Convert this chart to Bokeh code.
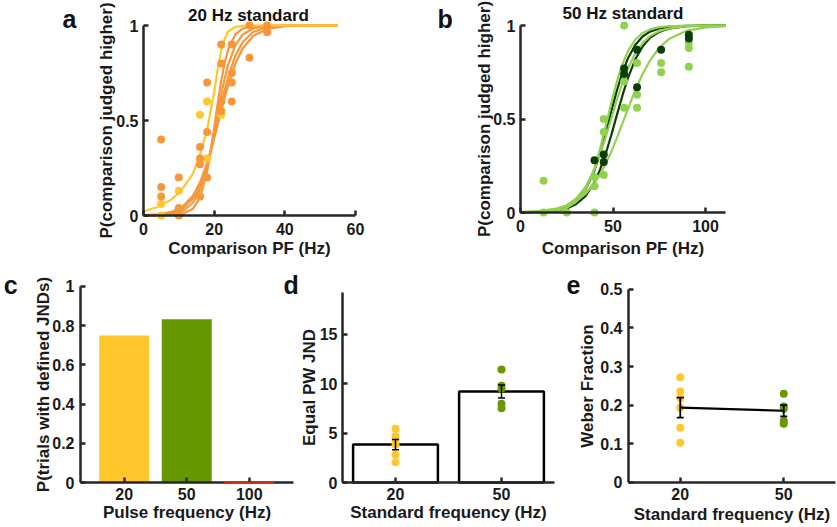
from bokeh.plotting import figure
from bokeh.models import ColumnDataSource, FixedTicker, Label, Whisker, TeeHead, Range1d
from bokeh.layouts import column, row
from bokeh.embed import file_html
from bokeh.resources import INLINE

# ---------------- data ----------------
# panel a : 20 Hz standard (fitted psychometric curves)
a_fit_x = [0, 4, 8, 11, 14, 16, 18, 19, 20, 21, 22, 23, 24, 26, 28, 31, 35, 40, 48, 55]
a_fit_yellow = [0.022, 0.045, 0.085, 0.14, 0.22, 0.32, 0.45, 0.55, 0.65, 0.77, 0.87, 0.93, 0.97, 0.992, 0.998, 1.0, 1.0, 1.0, 1.0, 1.0]
a_fit_orange1 = [0.0, 0.0, 0.0015, 0.0075, 0.035, 0.094, 0.23, 0.336, 0.46, 0.59, 0.71, 0.805, 0.875, 0.953, 0.983, 0.996, 1.0, 1.0, 1.0, 1.0]
a_fit_orange2 = [0.0003, 0.0013, 0.0064, 0.021, 0.067, 0.137, 0.261, 0.345, 0.44, 0.54, 0.636, 0.723, 0.796, 0.897, 0.951, 0.985, 0.997, 1.0, 1.0, 1.0]
a_fit_orange3 = [0.0009, 0.0034, 0.013, 0.034, 0.089, 0.159, 0.269, 0.339, 0.417, 0.5, 0.583, 0.661, 0.731, 0.841, 0.911, 0.966, 0.991, 0.998, 1.0, 1.0]
a_fit_orange4 = [0.0019, 0.0061, 0.0196, 0.046, 0.104, 0.174, 0.275, 0.337, 0.406, 0.478, 0.551, 0.622, 0.689, 0.799, 0.878, 0.945, 0.982, 0.996, 1.0, 1.0]
a_orange_x = [5, 5, 5, 10, 10, 10, 16, 16, 16, 16, 18, 18, 18, 22, 22, 22, 22, 25, 25, 25, 25, 30, 30, 35, 35]
a_orange_y = [0.4, 0.15, 0.1, 0.2, 0.04, 0.0, 0.36, 0.3, 0.27, 0.1, 0.7, 0.44, 0.2, 0.9, 0.8, 0.6, 0.55, 0.9, 0.75, 0.7, 0.6, 0.83, 1.0, 1.0, 0.965]
a_yellow_x = [5, 5, 10, 16, 18, 18, 22]
a_yellow_y = [0.06, 0.0, 0.13, 0.53, 0.6, 0.3, 0.53]

# panel b : 50 Hz standard
b_fit_x = [0, 10, 20, 25, 30, 35, 40, 43, 46, 49, 52, 55, 58, 62, 66, 70, 75, 80, 90, 100, 110.8]
b_fit_dark1 = [0.0006, 0.0029, 0.0133, 0.028, 0.059, 0.119, 0.226, 0.317, 0.423, 0.538, 0.649, 0.746, 0.823, 0.896, 0.941, 0.967, 0.984, 0.993, 0.998, 1.0, 1.0]
b_fit_dark2 = [0.0006, 0.0027, 0.011, 0.022, 0.044, 0.086, 0.162, 0.229, 0.313, 0.411, 0.518, 0.622, 0.717, 0.818, 0.888, 0.934, 0.966, 0.983, 0.996, 0.999, 1.0]
b_fit_light1 = [0.0004, 0.0021, 0.011, 0.025, 0.056, 0.119, 0.237, 0.339, 0.458, 0.583, 0.697, 0.791, 0.862, 0.924, 0.96, 0.979, 0.991, 0.996, 0.999, 1.0, 1.0]
b_fit_light2 = [0.0015, 0.0055, 0.02, 0.039, 0.074, 0.134, 0.231, 0.31, 0.401, 0.5, 0.599, 0.69, 0.769, 0.85, 0.906, 0.943, 0.97, 0.984, 0.996, 0.999, 1.0]
b_fit_light3 = [0.0028, 0.0078, 0.022, 0.037, 0.061, 0.099, 0.157, 0.203, 0.259, 0.323, 0.396, 0.474, 0.552, 0.653, 0.741, 0.813, 0.881, 0.926, 0.973, 0.99, 0.997]
b_light_x = [12.5, 12.5, 25, 40, 40, 40, 45, 45, 45, 56, 56, 56, 63, 63, 63, 76, 76, 91, 91, 91]
b_light_y = [0.17, 0.0, 0.0, 0.0, 0.14, 0.19, 0.5, 0.43, 0.2, 1.0, 0.7, 0.56, 0.8, 0.63, 0.56, 0.8, 0.75, 0.91, 0.88, 0.78]
b_dark_x = [40, 45, 45, 56, 56, 63, 63, 76, 91, 91]
b_dark_y = [0.28, 0.27, 0.31, 0.77, 0.74, 0.87, 0.67, 0.87, 0.95, 0.93]

# panel c
c_categories = ["20", "50", "100"]
c_values = [0.75, 0.833, 0.0]

# panel d
d_categories = ["20", "50"]
d_mean = [3.85, 9.22]
d_sem = [0.52, 0.65]
d_pts_20 = [5.44, 4.7, 4.36, 3.86, 2.82, 2.04]
d_pts_50 = [11.45, 9.8, 9.5, 7.97, 7.53]

# panel e
e_categories = ["20", "50"]
e_mean = [0.193, 0.185]
e_sem = [0.026, 0.0145]
e_pts_20 = [0.272, 0.235, 0.218, 0.193, 0.141, 0.102]
e_pts_50 = [0.229, 0.196, 0.19, 0.159, 0.151]

# ---------------- style ----------------
FONT = "Liberation Sans"
AX = "#262626"
YEL = "#FFC72C"
ORG = "#F8963A"
GRN = "#669900"
LGRN = "#92D050"
DGRN = "#0B3D0B"
RED = "#C83214"


def make_fig(w, h, xr, yr):
    p = figure(width=w, height=h, x_range=Range1d(*xr), y_range=Range1d(*yr),
               output_backend="svg", toolbar_location=None, title=None,
               min_border_left=0, min_border_right=0,
               min_border_top=0, min_border_bottom=0)
    p.outline_line_color = None
    p.xgrid.visible = False
    p.ygrid.visible = False
    p.background_fill_color = "white"
    p.border_fill_color = "white"
    return p


def style_axes(p, xfix, yfix, xb, yb, xt, xl, yt, yl, xlab, ylab,
               xls, xals, yls, yals):
    for ax in (p.xaxis[0], p.yaxis[0]):
        ax.axis_line_width = 2.5
        ax.axis_line_color = AX
        ax.major_tick_in = 5
        ax.major_tick_out = 0
        ax.major_tick_line_width = 2.5
        ax.major_tick_line_color = AX
        ax.minor_tick_line_color = None
        ax.major_label_text_font = FONT
        ax.major_label_text_font_size = "16px"
        ax.major_label_text_font_style = "bold"
        ax.major_label_text_color = "#1a1a1a"
        ax.axis_label_text_font = FONT
        ax.axis_label_text_font_size = "17px"
        ax.axis_label_text_font_style = "bold"
        ax.axis_label_text_color = "#1a1a1a"
    xa, ya = p.xaxis[0], p.yaxis[0]
    xa.fixed_location = xfix
    ya.fixed_location = yfix
    xa.bounds = xb
    ya.bounds = yb
    xa.ticker = FixedTicker(ticks=xt)
    ya.ticker = FixedTicker(ticks=yt)
    xa.major_label_overrides = dict(zip(xt, xl))
    ya.major_label_overrides = dict(zip(yt, yl))
    xa.axis_label = xlab
    ya.axis_label = ylab
    xa.major_label_standoff = xls
    xa.axis_label_standoff = xals
    ya.major_label_standoff = yls
    ya.axis_label_standoff = yals


def add_text(p, x, y, text, size, align="left"):
    p.add_layout(Label(x=x, y=y, text=text, text_font=FONT, text_font_size=size,
                       text_font_style="bold", text_color="#111111",
                       text_align=align, text_baseline="alphabetic"))


# ---------------- panel a ----------------
pa = make_fig(420, 270, (-40.47, 78.40), (-0.28947, 1.13158))
for ys in (a_fit_orange4, a_fit_orange3, a_fit_orange2, a_fit_orange1):
    pa.line(a_fit_x, ys, line_color=ORG, line_width=2.2)
pa.line(a_fit_x, a_fit_yellow, line_color=YEL, line_width=2.2)
pa.scatter(a_yellow_x, a_yellow_y, size=8, fill_color=YEL, line_color=None)
pa.scatter(a_orange_x, a_orange_y, size=8, fill_color=ORG, line_color=None)
style_axes(pa, 0, 0, (0, 60), (0, 1), [0, 20, 40, 60], ["0", "20", "40", "60"],
           [0, 0.5, 1], ["0", "0.5", "1"], "Comparison PF (Hz)",
           "P(comparison judged higher)", 7, 1, 5, -3)
add_text(pa, 29.72, 1.054, "20 Hz standard", "17px", "center")
add_text(pa, -22.9, 1.033, "a", "25px")

# ---------------- panel b ----------------
pb = make_fig(417, 270, (-54.054, 171.35), (-0.31016, 1.13369))
for ys in (b_fit_dark2, b_fit_dark1):
    pb.line(b_fit_x, ys, line_color=DGRN, line_width=2.2)
for ys in (b_fit_light3, b_fit_light2, b_fit_light1):
    pb.line(b_fit_x, ys, line_color=LGRN, line_width=2.2)
pb.scatter(b_light_x, b_light_y, size=8, fill_color=LGRN, line_color=None)
pb.scatter(b_dark_x, b_dark_y, size=8, fill_color=DGRN, line_color=None)
style_axes(pb, 0, 0, (0, 110.81), (0, 1), [0, 50, 100], ["0", "50", "100"],
           [0, 0.5, 1], ["0", "0.5", "1"], "Comparison PF (Hz)",
           "P(comparison judged higher)", 7, 4, 5, -4)
add_text(pb, 55.41, 1.062, "50 Hz standard", "17px", "center")
add_text(pb, -44.86, 1.034, "b", "25px")

# ---------------- panel c ----------------
pc = make_fig(299, 257, (-0.98, 3.804), (-0.22959, 1.08163))
c_x = list(range(1, len(c_categories) + 1))
pc.vbar(x=c_x[:2], top=c_values[:2], width=0.8, fill_color=[YEL, GRN], line_color=None)
pc.vbar(x=c_x[2:], top=c_values[2:], width=0.8, fill_color=None, line_color=RED,
        line_width=2, level="overlay")
style_axes(pc, 0, 0.3, (0.3, 3.7), (0, 1), c_x, c_categories,
           [0, 0.2, 0.4, 0.6, 0.8, 1], ["0", "0.2", "0.4", "0.6", "0.8", "1"],
           "Pulse frequency (Hz)", "P(trials with defined JNDs)", 5, 0, 6, -4)
add_text(pc, -0.927, 1.009, "c", "25px")
add_text(pc, 3.548, 1.01, "d", "25px")

# ---------------- panel d ----------------
pd_ = make_fig(261, 257, (0.09434, 2.5566), (-4.5607, 21.486))
d_x = list(range(1, len(d_categories) + 1))
pd_.vbar(x=d_x, top=d_mean, width=0.8, fill_color="white", line_color="black", line_width=2.5)
pd_.scatter([d_x[0]] * len(d_pts_20), d_pts_20, size=8, fill_color=YEL, line_color=None)
pd_.scatter([d_x[1]] * len(d_pts_50), d_pts_50, size=8, fill_color=GRN, line_color=None)
d_src = ColumnDataSource(dict(x=d_x,
                              upper=[m + s for m, s in zip(d_mean, d_sem)],
                              lower=[m - s for m, s in zip(d_mean, d_sem)]))
pd_.add_layout(Whisker(source=d_src, base="x", upper="upper", lower="lower",
                       line_color="black", line_width=1.5, level="overlay",
                       upper_head=TeeHead(size=7, line_color="black", line_width=1.5),
                       lower_head=TeeHead(size=7, line_color="black", line_width=1.5)))
style_axes(pd_, 0, 0.5, (0.5, 2.5), (0, 19.3), d_x, d_categories,
           [0, 5, 10, 15], ["0", "5", "10", "15"],
           "Standard frequency (Hz)", "Equal PW JND", 5, 0, 5, -2)

# ---------------- panel e ----------------
pe = make_fig(277, 257, (-0.157, 2.51932), (-0.11818, 0.54935))
e_x = list(range(1, len(e_categories) + 1))
pe.scatter([e_x[0]] * len(e_pts_20), e_pts_20, size=8, fill_color=YEL, line_color=None)
pe.scatter([e_x[1]] * len(e_pts_50), e_pts_50, size=8, fill_color=GRN, line_color=None)
pe.line(e_x, e_mean, line_color="black", line_width=2.2)
e_src = ColumnDataSource(dict(x=e_x,
                              upper=[m + s for m, s in zip(e_mean, e_sem)],
                              lower=[m - s for m, s in zip(e_mean, e_sem)]))
pe.add_layout(Whisker(source=e_src, base="x", upper="upper", lower="lower",
                      line_color="black", line_width=1.8, level="overlay",
                      upper_head=TeeHead(size=7, line_color="black", line_width=1.8),
                      lower_head=TeeHead(size=7, line_color="black", line_width=1.8)))
style_axes(pe, 0, 0.5, (0.5, 2.5), (0, 0.5), e_x, e_categories,
           [0, 0.1, 0.2, 0.3, 0.4, 0.5], ["0", "0.1", "0.2", "0.3", "0.4", "0.5"],
           "Standard frequency (Hz)", "Weber Fraction", 6, 1, 6, 0)
add_text(pe, -0.099, 0.5112, "e", "25px")

layout = column(row(pa, pb), row(pc, pd_, pe))
open("out.html", "w").write(file_html(layout, INLINE))
